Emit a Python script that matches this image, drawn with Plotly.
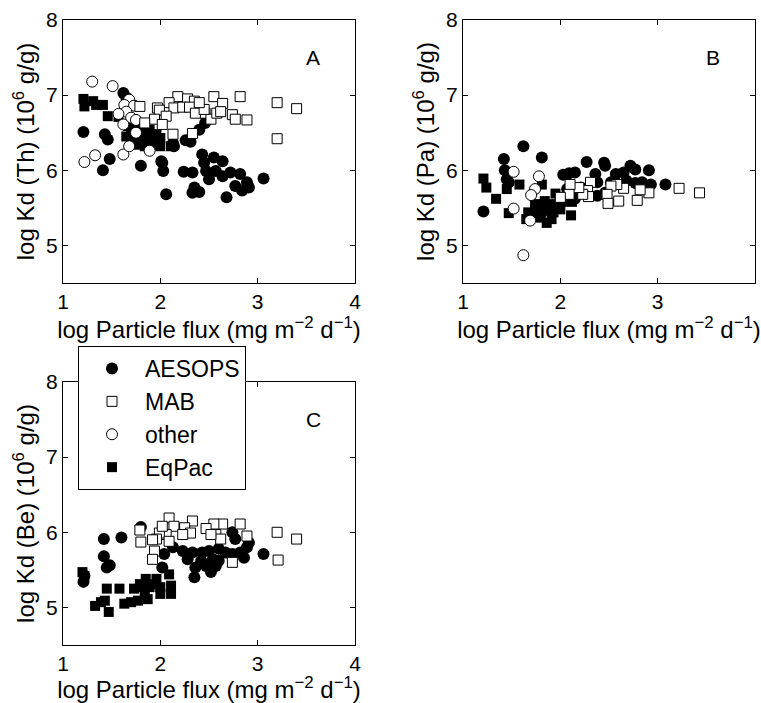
import plotly.graph_objects as go

# ---- data: log particle flux (x) vs log Kd (y) ----
# Panel A: Th
th_aesops_x = [1.21, 1.41, 1.43, 1.46, 1.48, 1.62, 1.65, 1.80, 2.01, 2.03, 2.06, 2.13, 2.14, 2.26,
               2.24, 2.33, 2.35, 2.33, 2.40, 2.43, 2.45, 2.47, 2.50, 2.55, 2.57, 2.64, 2.64, 2.68,
               2.72, 2.77, 2.82, 2.84, 2.89, 2.91, 3.06, 2.31, 2.40, 2.46, 2.49, 2.02]
th_aesops_y = [6.51, 6.00, 6.48, 6.41, 6.15, 7.03, 6.97, 6.06, 6.12, 5.99, 5.68, 6.36, 6.32, 6.40,
               5.98, 5.97, 5.77, 5.70, 5.71, 6.21, 6.10, 5.99, 5.88, 6.17, 5.99, 6.12, 5.92, 5.64,
               5.97, 5.79, 5.95, 5.73, 5.84, 5.77, 5.89, 6.38, 6.54, 6.63, 6.68, 6.10]
th_other_x = [1.30, 1.51, 1.22, 1.33, 1.62, 1.68, 1.68, 1.63, 1.73, 1.65, 1.70, 1.75, 1.62, 1.75,
              1.89, 1.57]
th_other_y = [7.18, 7.12, 6.11, 6.20, 6.21, 6.32, 6.94, 6.87, 6.86, 6.78, 6.70, 6.67, 6.61, 6.50,
              6.26, 6.75]
th_mab_x = [2.82, 3.20, 3.40, 3.20, 2.55, 2.64, 2.74, 2.77, 2.89, 2.46, 2.52, 2.58, 2.18, 2.28,
            2.35, 2.09, 2.14, 2.23, 2.30, 1.97, 1.99, 2.06, 1.94, 2.02, 2.13, 2.33, 2.36, 2.45,
            1.84, 1.79, 2.62, 2.40]
th_mab_y = [6.98, 6.90, 6.82, 6.42, 6.98, 6.89, 6.74, 6.68, 6.67, 6.76, 6.68, 6.76, 6.98, 6.95,
            6.92, 6.90, 6.83, 6.84, 6.84, 6.83, 6.80, 6.72, 6.68, 6.61, 6.48, 6.49, 6.76, 6.81,
            6.63, 6.85, 6.78, 6.90]
th_eqpac_x = [1.21, 1.22, 1.31, 1.34, 1.41, 1.46, 1.57, 1.67, 1.65, 1.73, 1.80, 1.89, 1.96, 2.00,
              1.78, 1.84, 1.89, 1.96, 2.00, 2.11, 1.75, 1.84, 1.91, 1.87, 1.70, 1.93]
th_eqpac_y = [6.95, 6.85, 6.92, 6.87, 6.87, 6.72, 6.71, 6.59, 6.45, 6.56, 6.56, 6.54, 6.48, 6.43,
              6.34, 6.32, 6.30, 6.34, 6.32, 6.32, 6.43, 6.43, 6.41, 6.48, 6.50, 6.39]

# Panel B: Pa
pa_aesops_x = [1.21, 1.42, 1.43, 1.45, 1.47, 1.62, 1.81, 2.03, 2.09, 2.15, 2.27, 2.45, 2.46, 2.36,
               2.38, 2.57, 2.65, 2.72, 2.77, 2.91, 2.84, 2.93, 3.08, 2.52, 2.58, 2.68, 2.77, 2.07,
               2.21, 2.38, 2.46, 2.05, 2.15]
pa_aesops_y = [5.45, 6.15, 6.00, 5.88, 5.84, 6.32, 6.17, 5.94, 5.96, 5.97, 6.11, 6.10, 6.06, 5.95,
               5.84, 5.95, 5.97, 6.06, 6.01, 6.00, 5.84, 5.81, 5.81, 5.84, 5.82, 5.86, 5.83, 5.75,
               5.77, 5.66, 5.70, 5.59, 5.62]
pa_other_x = [1.52, 1.78, 1.74, 1.70, 1.52, 1.69, 1.62]
pa_other_y = [5.98, 5.92, 5.75, 5.67, 5.49, 5.33, 4.87]
pa_mab_x = [3.43, 3.22, 2.91, 2.82, 2.79, 2.65, 2.58, 2.60, 2.52, 2.48, 2.49, 2.31, 2.28, 2.29,
            2.23, 2.19, 2.10, 2.09, 2.00]
pa_mab_y = [5.70, 5.76, 5.70, 5.74, 5.60, 5.76, 5.81, 5.59, 5.79, 5.68, 5.56, 5.84, 5.73, 5.65,
            5.68, 5.77, 5.81, 5.68, 5.64]
pa_eqpac_x = [1.21, 1.24, 1.34, 1.45, 1.58, 1.47, 1.65, 1.67, 1.74, 1.78, 1.83, 1.90, 1.97, 1.80,
              1.86, 1.91, 1.93, 2.00, 1.95, 1.81, 2.12, 2.11, 1.86, 1.76, 1.71, 1.84]
pa_eqpac_y = [5.89, 5.77, 5.62, 5.75, 5.81, 5.43, 5.35, 5.44, 5.55, 5.52, 5.55, 5.55, 5.52, 5.37,
              5.30, 5.35, 5.44, 5.48, 5.69, 5.81, 5.58, 5.40, 5.46, 5.46, 5.39, 5.59]

# Panel C: Be
be_aesops_x = [1.21, 1.22, 1.42, 1.60, 1.42, 1.45, 1.48, 1.80, 2.02, 2.04, 2.13, 2.23, 2.33, 2.35,
               2.36, 2.42, 2.47, 2.52, 2.57, 2.43, 2.50, 2.60, 2.67, 2.74, 2.77, 2.82, 2.86, 2.89,
               2.91, 2.74, 3.06, 2.28, 2.54, 2.60]
be_aesops_y = [5.34, 5.42, 5.91, 5.93, 5.68, 5.53, 5.56, 6.07, 5.53, 5.71, 5.80, 5.75, 5.73, 5.40,
               5.53, 5.62, 5.55, 5.47, 5.55, 5.73, 5.75, 5.78, 5.73, 6.00, 5.91, 5.73, 5.66, 5.80,
               5.86, 5.71, 5.71, 5.64, 5.64, 5.62]
be_other_x = []
be_other_y = []
be_mab_x = [3.20, 3.40, 3.21, 2.82, 2.89, 2.74, 2.64, 2.55, 2.57, 2.62, 2.47, 2.52, 2.33, 2.25,
            2.31, 2.09, 2.14, 2.23, 2.06, 1.99, 1.96, 1.92, 2.09, 1.94, 1.92, 1.80, 1.79, 2.02]
be_mab_y = [6.00, 5.91, 5.63, 6.11, 5.95, 5.60, 6.11, 6.11, 5.97, 5.91, 6.05, 5.97, 6.15, 6.06,
            5.99, 6.19, 6.08, 5.97, 5.97, 5.99, 5.91, 5.90, 5.88, 5.75, 5.64, 5.87, 6.03, 6.08]
be_eqpac_x = [1.20, 1.22, 1.45, 1.58, 1.43, 1.39, 1.33, 1.47, 1.63, 1.70, 1.77, 1.87, 1.73, 1.79,
              1.85, 1.96, 1.89, 2.00, 1.84, 2.00, 2.11, 2.09, 2.11, 1.81, 1.93]
be_eqpac_y = [5.47, 5.42, 5.25, 5.25, 5.09, 5.07, 5.02, 4.94, 5.05, 5.07, 5.09, 5.11, 5.25, 5.31,
              5.38, 5.38, 5.27, 5.27, 5.20, 5.18, 5.29, 5.44, 5.18, 5.27, 5.31]

x_ticks = [1, 2, 3, 4]
y_ticks = [5, 6, 7, 8]
x_title = "log Particle flux (mg m<sup>\u22122</sup> d<sup>\u22121</sup>)"

FONT = "Liberation Sans, Arial, sans-serif"
W, H = 761, 703

styles = {
    "AESOPS": dict(symbol="circle", size=12, color="black", line=dict(color="black", width=0)),
    "MAB": dict(symbol="square", size=10, color="white", line=dict(color="black", width=1)),
    "other": dict(symbol="circle", size=11, color="white", line=dict(color="black", width=1)),
    "EqPac": dict(symbol="square", size=10, color="black", line=dict(color="black", width=0)),
}
legend_rank = {"AESOPS": 1, "MAB": 2, "other": 3, "EqPac": 4}

panels = [
    # (axis suffix, series, y title, letter, pixel box left/right/top/bottom)
    ("", {"AESOPS": (th_aesops_x, th_aesops_y), "EqPac": (th_eqpac_x, th_eqpac_y),
          "other": (th_other_x, th_other_y), "MAB": (th_mab_x, th_mab_y)},
     "log Kd (Th) (10<sup>6</sup> g/g)", "A", (63, 355, 20, 283)),
    ("2", {"AESOPS": (pa_aesops_x, pa_aesops_y), "EqPac": (pa_eqpac_x, pa_eqpac_y),
           "other": (pa_other_x, pa_other_y), "MAB": (pa_mab_x, pa_mab_y)},
     "log Kd (Pa) (10<sup>6</sup> g/g)", "B", (463, 755, 20, 283)),
    ("3", {"AESOPS": (be_aesops_x, be_aesops_y), "EqPac": (be_eqpac_x, be_eqpac_y),
           "other": (be_other_x, be_other_y), "MAB": (be_mab_x, be_mab_y)},
     "log Kd (Be) (10<sup>6</sup> g/g)", "C", (63, 355, 382, 645)),
]

fig = go.Figure()
layout = {}
for i, (suffix, series, ytitle, letter, box) in enumerate(panels):
    left, right, top, bottom = box
    for name, (xs, ys) in series.items():
        fig.add_trace(go.Scatter(
            x=xs, y=ys, mode="markers", name=name, marker=styles[name],
            xaxis="x" + suffix, yaxis="y" + suffix,
            showlegend=(i == 0), legendrank=legend_rank[name], cliponaxis=False))
    common = dict(showline=True, linecolor="black", linewidth=1, mirror="ticks",
                  ticks="inside", ticklen=5, tickcolor="black", showgrid=False,
                  zeroline=False, automargin=False, tickfont=dict(size=21, color="black"))
    layout["xaxis" + suffix] = dict(
        common, domain=[left / W, right / W], range=[1, 4], tickvals=x_ticks,
        anchor="y" + suffix, title=dict(text=x_title, font=dict(size=24), standoff=0))
    layout["yaxis" + suffix] = dict(
        common, domain=[1 - bottom / H, 1 - top / H], range=[4.5, 8], tickvals=y_ticks,
        anchor="x" + suffix, title=dict(text=ytitle, font=dict(size=24), standoff=4))
    fig.add_annotation(text=letter, x=3.57, y=7.5, xref="x" + suffix, yref="y" + suffix,
                       showarrow=False, font=dict(size=21, color="black"))

fig.update_layout(
    **layout,
    width=W, height=H,
    margin=dict(l=0, r=0, t=0, b=0, autoexpand=False),
    paper_bgcolor="white", plot_bgcolor="white",
    font=dict(family=FONT, color="black"),
    legend=dict(x=78 / W, y=1 - 346 / H, xanchor="left", yanchor="top",
                bordercolor="black", borderwidth=1, bgcolor="white",
                font=dict(size=23), tracegroupgap=0, itemwidth=56),
)

# page body has a default 8px margin; drop it so the figure sits at the window corner
fig.write_html("out.html", config={"displayModeBar": False},
               post_script="document.body.style.margin='0';")
